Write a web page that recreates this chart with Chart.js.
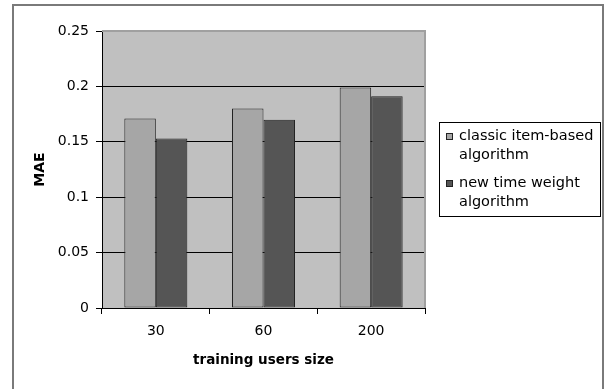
<!DOCTYPE html>
<html>
<head>
<meta charset="utf-8">
<title>MAE by training users size</title>
<script src="https://cdn.jsdelivr.net/npm/chart.js@4/dist/chart.umd.min.js"></script>
<style>
  html, body { margin: 0; padding: 0; background: #ffffff; }
  #wrap { width: 608px; height: 389px; }
</style>
</head>
<body>
<div id="wrap"><canvas id="chart" width="608" height="389"></canvas></div>
<script>
// Training set sizes (number of users)
const categories = ['30', '60', '200'];

// Mean absolute error per algorithm
const classicItemBased = [0.171, 0.180, 0.199];
const newTimeWeight = [0.153, 0.170, 0.191];

// Legend text, one entry per series, split into display lines
const seriesNames = [
  ['classic item-based', 'algorithm'],
  ['new time weight', 'algorithm']
];

const yTicks = [0, 0.05, 0.1, 0.15, 0.2, 0.25];

const FONT = 'DejaVu Sans';

// Grey plot background, outer frame and plot border
const framePlugin = {
  id: 'frame',
  beforeDraw(chart) {
    const { ctx, chartArea: a } = chart;
    ctx.save();
    ctx.fillStyle = '#ffffff';
    ctx.fillRect(0, 0, chart.width, chart.height);
    ctx.fillStyle = '#c0c0c0';
    ctx.fillRect(a.left, a.top, a.right - a.left, a.bottom - a.top);
    ctx.strokeStyle = '#7a7a7a';
    ctx.lineWidth = 2;
    ctx.strokeRect(13, 5, 590, 420);
    ctx.restore();
  },
  afterDatasetsDraw(chart) {
    const { ctx, chartArea: a } = chart;
    ctx.save();
    ctx.strokeStyle = '#a0a0a0';
    ctx.lineWidth = 2;
    ctx.beginPath();
    ctx.moveTo(a.left, a.top);
    ctx.lineTo(a.right, a.top);
    ctx.lineTo(a.right, a.bottom);
    ctx.stroke();
    ctx.restore();
  }
};

// Boxed legend with two-line entries to the right of the plot
const boxLegendPlugin = {
  id: 'boxLegend',
  afterDraw(chart) {
    const { ctx } = chart;
    const x0 = 439.5, y0 = 122.5, w = 161, h = 94;
    ctx.save();
    ctx.fillStyle = '#ffffff';
    ctx.fillRect(x0, y0, w, h);
    ctx.strokeStyle = '#000000';
    ctx.lineWidth = 1;
    ctx.strokeRect(x0, y0, w, h);
    ctx.font = '14.5px "' + FONT + '"';
    ctx.textBaseline = 'middle';
    ctx.textAlign = 'left';
    chart.data.datasets.forEach((ds, i) => {
      const lines = seriesNames[i];
      const cy = 136 + i * 47;
      ctx.fillStyle = ds.backgroundColor;
      ctx.fillRect(446, cy - 3, 7, 7);
      ctx.strokeStyle = '#222222';
      ctx.strokeRect(446.5, cy - 2.5, 6, 6);
      ctx.fillStyle = '#000000';
      lines.forEach((t, j) => ctx.fillText(t, 459, cy + j * 19));
    });
    ctx.restore();
  }
};

new Chart(document.getElementById('chart'), {
  type: 'bar',
  data: {
    labels: categories,
    datasets: [
      {
        label: seriesNames[0].join(' '),
        data: classicItemBased,
        backgroundColor: '#a6a6a6',
        borderColor: '#222222',
        borderWidth: 1,
        borderSkipped: false,
        categoryPercentage: 0.585,
        barPercentage: 1.0
      },
      {
        label: seriesNames[1].join(' '),
        data: newTimeWeight,
        backgroundColor: '#555555',
        borderColor: '#222222',
        borderWidth: 1,
        borderSkipped: false,
        categoryPercentage: 0.585,
        barPercentage: 1.0
      }
    ]
  },
  options: {
    responsive: false,
    animation: false,
    devicePixelRatio: 1,
    layout: { padding: { left: 13, right: 183, top: 31, bottom: 0 } },
    plugins: {
      legend: { display: false },
      tooltip: { enabled: false }
    },
    scales: {
      x: {
        afterFit(scale) { scale.height = 81; },
        grid: {
          offset: true,
          drawOnChartArea: false,
          drawTicks: true,
          tickLength: 6,
          color: '#000000'
        },
        border: { display: true, color: '#000000', width: 1 },
        ticks: {
          color: '#000000',
          padding: 9,
          font: { family: FONT, size: 14 }
        },
        title: {
          display: true,
          text: 'training users size',
          color: '#000000',
          font: { family: FONT, size: 13.5, weight: 'bold' },
          padding: { top: 0, bottom: 20 }
        }
      },
      y: {
        min: 0,
        max: 0.25,
        afterFit(scale) { scale.width = 89; },
        afterBuildTicks(scale) {
          scale.ticks = yTicks.map(v => ({ value: v }));
        },
        grid: {
          color: ctx => (ctx.tick && ctx.tick.value === 0.25 ? 'rgba(0,0,0,0)' : '#000000'),
          tickColor: '#000000',
          drawTicks: true,
          tickLength: 6,
          lineWidth: 1
        },
        border: { display: true, color: '#000000', width: 1 },
        ticks: {
          color: '#000000',
          padding: 7,
          font: { family: FONT, size: 14 },
          callback: v => String(+v.toFixed(2))
        },
        title: {
          display: true,
          text: 'MAE',
          color: '#000000',
          font: { family: FONT, size: 14, weight: 'bold' },
          padding: { top: 19, bottom: 0 }
        }
      }
    }
  },
  plugins: [framePlugin, boxLegendPlugin]
});
</script>
</body>
</html>
